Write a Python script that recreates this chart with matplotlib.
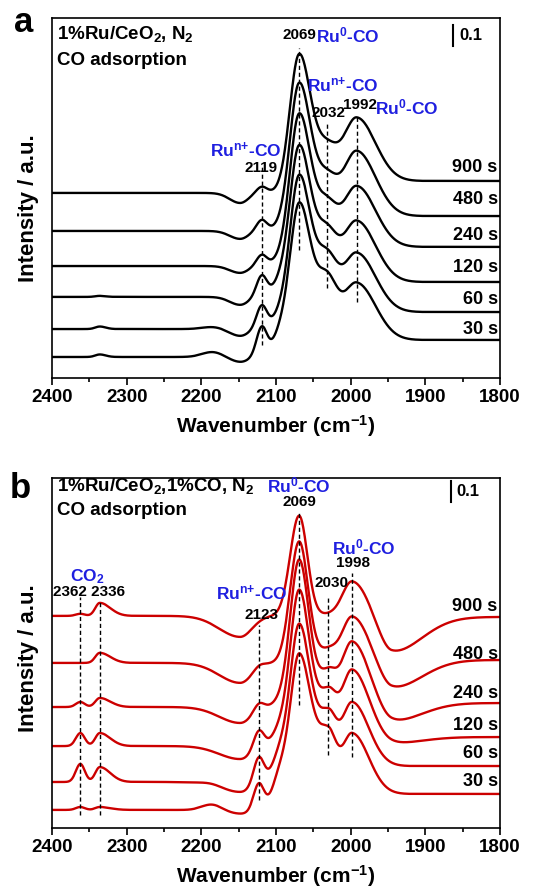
import numpy as np
import matplotlib
matplotlib.use("Agg")
import matplotlib.pyplot as plt
from matplotlib.ticker import MultipleLocator

plt.rcParams["font.family"] = "Liberation Sans"
plt.rcParams["font.weight"] = "bold"
plt.rcParams["axes.labelweight"] = "bold"
plt.rcParams["mathtext.fontset"] = "custom"
plt.rcParams["mathtext.rm"] = "Liberation Sans:bold"
plt.rcParams["mathtext.it"] = "Liberation Sans:bold"
plt.rcParams["mathtext.bf"] = "Liberation Sans:bold"
plt.rcParams["mathtext.default"] = "regular"

# ---- DATA: band heights per spectrum (absorbance, order 30 s ... 900 s) ----
times = ["30 s", "60 s", "120 s", "240 s", "480 s", "900 s"]

# panel a : 1%Ru/CeO2 in N2
a_left = [0.100, 0.233, 0.386, 0.533, 0.700, 0.881]    # baseline at 2400 cm-1
a_right = [0.181, 0.314, 0.457, 0.624, 0.771, 0.938]   # baseline at 1800 cm-1
a_2069 = [0.708, 0.709, 0.700, 0.702, 0.686, 0.646]
a_2032 = [0.304, 0.277, 0.250, 0.222, 0.195, 0.168]
a_1992 = [0.276, 0.286, 0.295, 0.295, 0.314, 0.305]
a_2119 = [0.140, 0.110, 0.100, 0.052, 0.052, 0.030]
a_2095 = [0.090, 0.055, 0.055, 0.020, 0.010, 0.0]
a_2148 = [-0.024, -0.033, -0.038, -0.033, -0.038, -0.048]
a_2185 = [0.024, 0.010, 0.0, 0.0, 0.0, 0.0]
a_2336 = [0.012, 0.012, 0.005, 0.0, 0.0, 0.0]

# panel b : 1%Ru/CeO2 in 1%CO/N2
b_left = [0.086, 0.219, 0.390, 0.576, 0.786, 1.010]
b_right = [0.162, 0.295, 0.433, 0.595, 0.800, 1.005]
b_2069 = [0.720, 0.730, 0.730, 0.695, 0.575, 0.478]
b_2069_tail = [16, 15, 14, 13, 12, 11]   # low-wavenumber half width of the 2069 band
b_2030 = [0.300, 0.265, 0.225, 0.155, 0.055, 0.010]
b_1998 = [0.295, 0.310, 0.324, 0.295, 0.210, 0.171]
b_2123 = [0.129, 0.129, 0.090, 0.038, 0.014, 0.0]
b_2095 = [0.150, 0.120, 0.070, 0.020, 0.0, 0.0]
b_2148 = [-0.019, -0.048, -0.062, -0.076, -0.095, -0.100]
b_1945 = [0.0, 0.0, -0.029, -0.086, -0.133, -0.167]
b_2362 = [0.014, 0.086, 0.062, 0.024, 0.0, 0.010]
b_2336 = [0.014, 0.071, 0.062, 0.043, 0.048, 0.062]
b_2185 = [0.033, 0.010, 0.0, 0.0, 0.0, 0.0]

wn = np.linspace(1800, 2400, 1201)


def band(x, center, height, sig_hi, sig_lo):
    # asymmetric gaussian: sig_hi on the high-wavenumber side
    s = np.where(x > center, sig_hi, sig_lo)
    return height * np.exp(-0.5 * ((x - center) / s) ** 2)


def baseline(x, left, right):
    return left + (right - left) / (1 + np.exp((x - 2040) / 20))


def spectrum_a(i):
    y = baseline(wn, a_left[i], a_right[i])
    y += band(wn, 2069, a_2069[i], 12.5, 15.5)
    y += band(wn, 2032, a_2032[i], 14, 14)
    y += band(wn, 1992, a_1992[i], 17, 25)
    y += band(wn, 2119, a_2119[i], 7, 7)
    y += band(wn, 2095, a_2095[i], 10, 10)
    y += band(wn, 2148, a_2148[i], 14, 11)
    y += band(wn, 2185, a_2185[i], 14, 14)
    y += band(wn, 2336, a_2336[i], 6, 8)
    return y


def spectrum_b(i):
    y = baseline(wn, b_left[i], b_right[i])
    y += band(wn, 2069, b_2069[i], 12, b_2069_tail[i])
    y += band(wn, 2030, b_2030[i], 14, 11)
    y += band(wn, 1998, b_1998[i], 13, 22)
    y += band(wn, 2123, b_2123[i], 7, 7)
    y += band(wn, 2095, b_2095[i], 10, 10)
    y += band(wn, 2148, b_2148[i], 28, 16)
    y += band(wn, 1945, b_1945[i], 18, 40)
    y += band(wn, 2362, b_2362[i], 6, 6)
    y += band(wn, 2336, b_2336[i], 6, 14)
    y += band(wn, 2185, b_2185[i], 14, 14)
    return y


blue = "#1f1fe0"
red = "#cc0000"
ru0 = "Ru$^{0}$-CO"
run = "Ru$^{n{+}}$-CO"

fig = plt.figure(figsize=(5.46, 8.9), dpi=100)
ax1 = fig.add_axes([0.0952, 0.5753, 0.8205, 0.4045])
ax2 = fig.add_axes([0.0952, 0.0697, 0.8205, 0.3933])


def style_axis(ax, ytop, ylab_y):
    ax.set_xlim(2400, 1800)
    ax.set_ylim(0, ytop)
    ax.set_yticks([])
    ax.xaxis.set_major_locator(MultipleLocator(100))
    ax.xaxis.set_minor_locator(MultipleLocator(50))
    ax.tick_params(axis="x", which="major", direction="out", length=5, width=1.2, labelsize=13.5, pad=3)
    ax.tick_params(axis="x", which="minor", direction="out", length=3, width=1.2)
    for sp in ax.spines.values():
        sp.set_linewidth(1.2)
    ax.set_xlabel("Wavenumber (cm$^{-1}$)", fontsize=15, labelpad=5)
    ax.set_ylabel("Intensity / a.u.", fontsize=16)
    ax.yaxis.set_label_coords(-0.030, ylab_y)


def vdash(ax, x, y0, y1):
    ax.plot([x, x], [y0, y1], color="black", lw=1.0, ls=(0, (3, 2)))


def scale_bar(ax, x, y0):
    ax.plot([x, x], [y0, y0 + 0.1], color="black", lw=1.5)
    ax.text(x - 8, y0 + 0.05, "0.1", fontsize=12, va="center", ha="left")


# ---- panel a ----
style_axis(ax1, 1.714, 0.472)
for i in range(6):
    ax1.plot(wn, spectrum_a(i), color="black", lw=1.7)
times_y_a = [0.229, 0.376, 0.524, 0.676, 0.848, 1.0]
for t, ty in zip(times, times_y_a):
    ax1.text(1803, ty, t, ha="right", va="center", fontsize=13)

vdash(ax1, 2119, 0.157, 1.014)
vdash(ax1, 2069, 0.610, 1.571)
vdash(ax1, 2032, 0.429, 1.219)
vdash(ax1, 1992, 0.362, 1.252)

ax1.text(2069, 1.633, "2069", ha="center", va="center", fontsize=11)
ax1.text(2047, 1.633, ru0, ha="left", va="center", fontsize=12.5, color=blue)
ax1.text(2010, 1.395, run, ha="center", va="center", fontsize=12.5, color=blue)
ax1.text(2029, 1.262, "2032", ha="center", va="center", fontsize=11)
ax1.text(1988, 1.300, "1992", ha="center", va="center", fontsize=11)
ax1.text(1967, 1.290, ru0, ha="left", va="center", fontsize=12.5, color=blue)
ax1.text(2141, 1.086, run, ha="center", va="center", fontsize=12.5, color=blue)
ax1.text(2120, 1.000, "2119", ha="center", va="center", fontsize=11)
scale_bar(ax1, 1863, 1.581)

ax1.text(0.011, 0.955, "1%Ru/CeO$_2$, N$_2$", transform=ax1.transAxes, fontsize=13.5, va="center")
ax1.text(0.011, 0.883, "CO adsorption", transform=ax1.transAxes, fontsize=13.5, va="center")
fig.text(24 / 546, 1 - 22 / 890, "a", fontsize=25, ha="center", va="center")

# ---- panel b ----
style_axis(ax2, 1.667, 0.486)
for i in range(6):
    ax2.plot(wn, spectrum_b(i), color=red, lw=1.7)
times_y_b = [0.219, 0.357, 0.490, 0.638, 0.824, 1.057]
for t, ty in zip(times, times_y_b):
    ax2.text(1803, ty, t, ha="right", va="center", fontsize=13)

vdash(ax2, 2362, 0.062, 1.100)
vdash(ax2, 2336, 0.062, 1.076)
vdash(ax2, 2123, 0.133, 0.967)
vdash(ax2, 2069, 0.586, 1.500)
vdash(ax2, 2030, 0.348, 1.100)
vdash(ax2, 1998, 0.338, 1.214)

ax2.text(2069, 1.633, ru0, ha="center", va="center", fontsize=12.5, color=blue)
ax2.text(2069, 1.552, "2069", ha="center", va="center", fontsize=11)
ax2.text(2353, 1.195, "CO$_2$", ha="center", va="center", fontsize=12.5, color=blue)
ax2.text(2350, 1.124, "2362 2336", ha="center", va="center", fontsize=11)
ax2.text(2133, 1.119, run, ha="center", va="center", fontsize=12.5, color=blue)
ax2.text(2120, 1.014, "2123", ha="center", va="center", fontsize=11)
ax2.text(2026, 1.167, "2030", ha="center", va="center", fontsize=11)
ax2.text(1983, 1.338, ru0, ha="center", va="center", fontsize=12.5, color=blue)
ax2.text(1997, 1.262, "1998", ha="center", va="center", fontsize=11)
scale_bar(ax2, 1866, 1.552)

ax2.text(0.011, 0.978, "1%Ru/CeO$_2$,1%CO, N$_2$", transform=ax2.transAxes, fontsize=13.5, va="center")
ax2.text(0.011, 0.907, "CO adsorption", transform=ax2.transAxes, fontsize=13.5, va="center")
fig.text(20 / 546, 1 - 488 / 890, "b", fontsize=25, ha="center", va="center")

fig.savefig("out.png", dpi=100)
